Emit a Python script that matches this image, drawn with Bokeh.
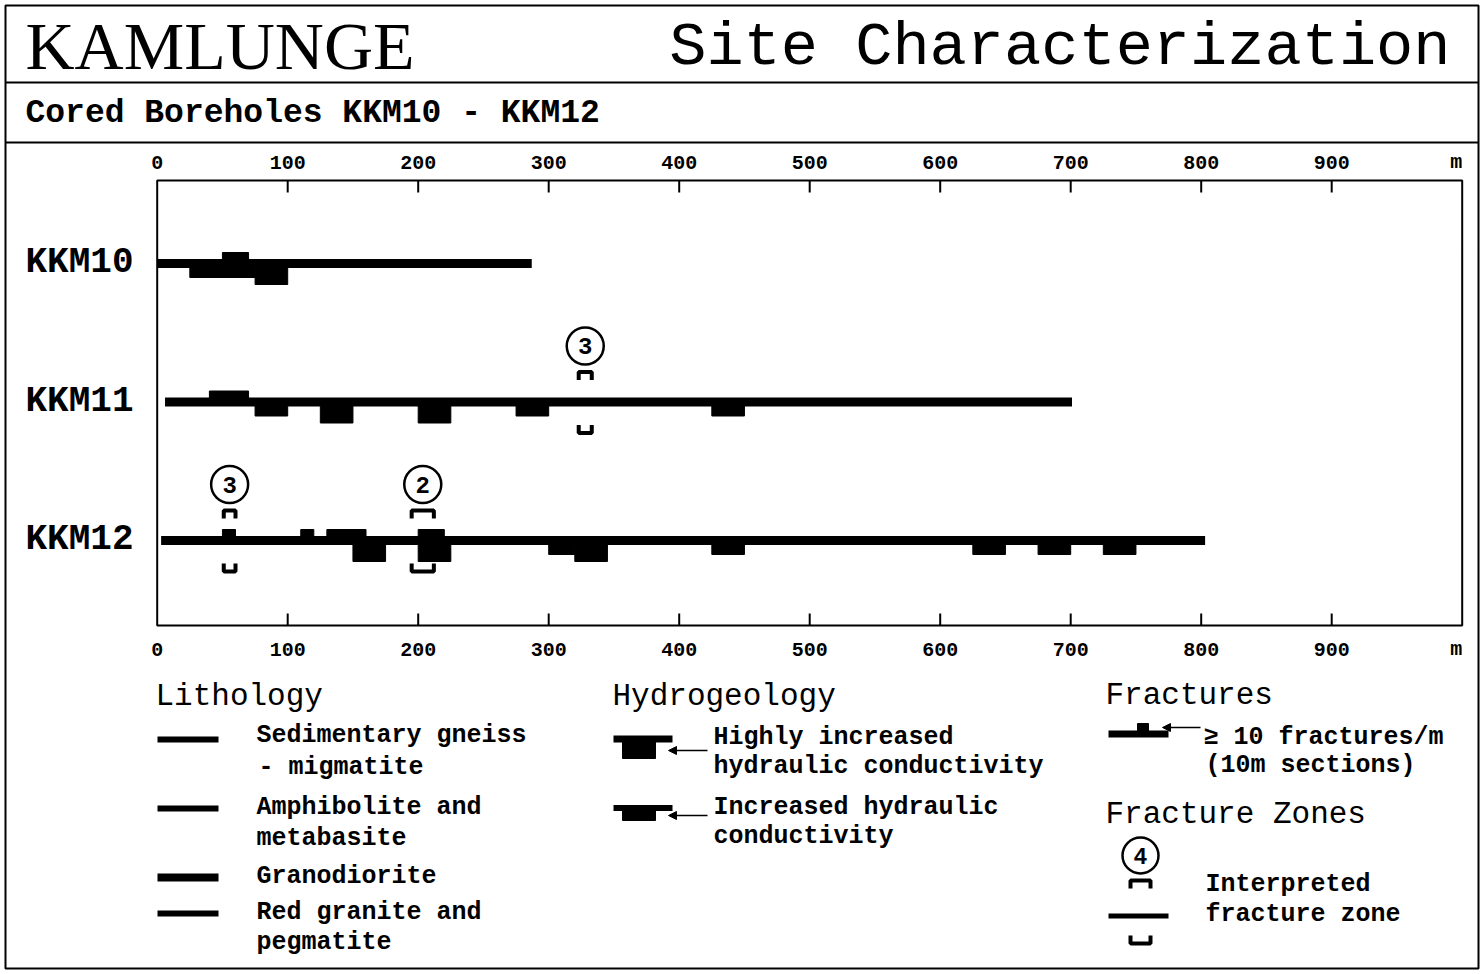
from bokeh.plotting import figure
from bokeh.models import Range1d, Arrow, NormalHead
from bokeh.core.properties import value
from bokeh.embed import file_html
from bokeh.resources import INLINE

# ---------------- data ----------------
borehole_names = ["KKM10", "KKM11", "KKM12"]
borehole_top = [0, 6, 3]            # m
borehole_bottom = [287, 701, 803]   # m

# increased hydraulic conductivity (borehole, from, to) in m
incr_hole = ["KKM10", "KKM11", "KKM11", "KKM11", "KKM12", "KKM12", "KKM12", "KKM12", "KKM12"]
incr_from = [25, 75, 275, 425, 300, 425, 625, 675, 725]
incr_to = [75, 100, 300, 450, 320, 450, 650, 700, 750]

# highly increased hydraulic conductivity
high_hole = ["KKM10", "KKM11", "KKM11", "KKM12", "KKM12", "KKM12"]
high_from = [75, 125, 200, 150, 200, 320]
high_to = [100, 150, 225, 175, 225, 345]

# >= 10 fractures/m (10 m sections)
frac_hole = ["KKM10", "KKM11", "KKM12", "KKM12", "KKM12", "KKM12"]
frac_from = [50, 40, 50, 110, 130, 200]
frac_to = [70, 70, 60, 120, 160, 220]

# interpreted fracture zones
zone_hole = ["KKM11", "KKM12", "KKM12"]
zone_label = ["3", "3", "2"]
zone_from = [323, 51, 195]
zone_to = [333, 60, 212]

tick_depths = [0, 100, 200, 300, 400, 500, 600, 700, 800, 900, 1000]
tick_labels = ["0", "100", "200", "300", "400", "500", "600", "700", "800", "900", "m"]

# ---------------- layout constants ----------------
W, H = 1480, 972
PAGE_L, PAGE_T = 0, 0
X0_PAGE, PX_PER_M = 156.7, 1.305          # depth 0 at page x, scale
ROW0_PAGE, ROW_PX = 263.0, 138.5          # first borehole row, row spacing
BL = 0.32                                  # baseline correction (em)

x_depth = Range1d((PAGE_L - X0_PAGE) / PX_PER_M, (PAGE_L + W - X0_PAGE) / PX_PER_M)
y_rows = Range1d((PAGE_T + H - ROW0_PAGE) / ROW_PX, (PAGE_T - ROW0_PAGE) / ROW_PX)

p = figure(width=W, height=H, x_range=x_depth, y_range=y_rows,
           x_axis_type=None, y_axis_type=None, title=None,
           toolbar_location=None, output_backend="svg", min_border=0,
           outline_line_color=None, background_fill_color="white",
           border_fill_color="white")
p.extra_x_ranges = {"px": Range1d(PAGE_L, PAGE_L + W)}
p.extra_y_ranges = {"py": Range1d(PAGE_T + H, PAGE_T)}

PXR = dict(x_range_name="px", y_range_name="py")
MONO = value("Liberation Mono")
SERIF = value("Liberation Serif")


def row_of(h):
    return borehole_names.index(h)


def off(px):
    return px / ROW_PX


def yb(y, size):
    """baseline y (page px) corrected for the renderer's baseline offset"""
    return y - BL * size


rows = [row_of(h) for h in borehole_names]

# ---------------- frame ----------------
p.quad(left=5, right=1478, top=5, bottom=968, fill_color=None,
       line_color="black", line_width=2, **PXR)
p.segment(x0=[5, 5], x1=[1478, 1478], y0=[82, 142], y1=[82, 142],
          line_color="black", line_width=2, **PXR)

# title
p.text(x=[25], y=[yb(67, 68)], text=["KAMLUNGE"], text_font=SERIF, text_font_size="68px",
       text_align="left", text_baseline="alphabetic", text_color="black", **PXR)
p.text(x=[1450], y=[yb(67, 62)], text=["Site Characterization"], text_font=MONO,
       text_font_size="62px", text_align="right", text_baseline="alphabetic",
       text_color="black", **PXR)
p.text(x=[25], y=[yb(124, 33)], text=["Cored Boreholes KKM10 - KKM12"], text_font=MONO,
       text_font_size="33px", text_font_style="bold", text_align="left",
       text_baseline="alphabetic", text_color="black", **PXR)

# ---------------- depth axis box ----------------
p.quad(left=0, right=1000, top=180, bottom=625, fill_color=None,
       line_color="black", line_width=2, y_range_name="py")
inner = tick_depths[1:-1]
p.segment(x0=inner, x1=inner, y0=[180] * len(inner), y1=[192] * len(inner),
          line_color="black", line_width=2, y_range_name="py")
p.segment(x0=inner, x1=inner, y0=[625] * len(inner), y1=[613] * len(inner),
          line_color="black", line_width=2, y_range_name="py")
for ybase in (168, 655):
    p.text(x=tick_depths[:-1], y=[yb(ybase, 20)] * (len(tick_depths) - 1),
           text=tick_labels[:-1],
           text_font=MONO, text_font_size="20px", text_font_style="bold",
           text_align="center", text_baseline="alphabetic", text_color="black",
           y_range_name="py")
    p.text(x=tick_depths[-1:], y=[yb(ybase, 20)], text=tick_labels[-1:],
           text_font=MONO, text_font_size="20px", text_font_style="bold",
           text_align="right", text_baseline="alphabetic", text_color="black",
           y_range_name="py")

# borehole labels
p.text(x=[25] * 3, y=[r + off(11 - BL * 36) for r in rows], text=borehole_names,
       text_font=MONO, text_font_size="36px", text_font_style="bold",
       text_align="left", text_baseline="alphabetic", text_color="black",
       x_range_name="px")

# ---------------- borehole logs ----------------
p.segment(x0=borehole_top, x1=borehole_bottom, y0=rows, y1=rows,
          line_color="black", line_width=9)

ir = [row_of(h) for h in incr_hole]
p.quad(left=incr_from, right=incr_to, top=ir, bottom=[r + off(14) for r in ir],
       fill_color="black", line_color="black", line_width=1)
hr = [row_of(h) for h in high_hole]
p.quad(left=high_from, right=high_to, top=hr, bottom=[r + off(21) for r in hr],
       fill_color="black", line_color="black", line_width=1)
fr = [row_of(h) for h in frac_hole]
p.quad(left=frac_from, right=frac_to, top=[r - off(11) for r in fr], bottom=fr,
       fill_color="black", line_color="black", line_width=1)

# fracture zones
zr = [row_of(h) for h in zone_hole]
zmid = [(a + b) / 2 for a, b in zip(zone_from, zone_to)]
p.multi_line(xs=[[a, a, b, b] for a, b in zip(zone_from, zone_to)],
             ys=[[r - off(22), r - off(30), r - off(30), r - off(22)] for r in zr],
             line_color="black", line_width=4)
p.multi_line(xs=[[a, a, b, b] for a, b in zip(zone_from, zone_to)],
             ys=[[r + off(23), r + off(31), r + off(31), r + off(23)] for r in zr],
             line_color="black", line_width=4)
p.scatter(x=zmid, y=[r - off(56) for r in zr], size=37, marker="circle",
          fill_color="white", line_color="black", line_width=2.5)
p.text(x=zmid, y=[r - off(48 + BL * 24) for r in zr], text=zone_label, text_font=MONO,
       text_font_size="24px", text_font_style="bold", text_align="center",
       text_baseline="alphabetic", text_color="black")

# ---------------- legends ----------------
HEAD = dict(text_font=MONO, text_font_size="31px", text_align="left",
            text_baseline="alphabetic", text_color="black", **PXR)
BODY = dict(text_font=MONO, text_font_size="25px", text_font_style="bold",
            text_align="left", text_baseline="alphabetic", text_color="black", **PXR)


def hy(ys):
    return [yb(y, 31) for y in ys]


def by(ys):
    return [yb(y, 25) for y in ys]


# Lithology
p.text(x=[155], y=hy([706]), text=["Lithology"], **HEAD)
litho_text = ["Sedimentary gneiss", "- migmatite", "Amphibolite and", "metabasite",
              "Granodiorite", "Red granite and", "pegmatite"]
p.text(x=[256, 258, 256, 256, 256, 256, 256], y=by([743, 775, 815, 846, 884, 920, 950]),
       text=litho_text, **BODY)
p.segment(x0=[157] * 4, x1=[218] * 4, y0=[739, 808, 877, 913], y1=[739, 808, 877, 913],
          line_color="black", line_width=[6, 6, 8, 6], **PXR)

# Hydrogeology
p.text(x=[612], y=hy([706]), text=["Hydrogeology"], **HEAD)
p.text(x=[713] * 4, y=by([745, 774, 815, 844]),
       text=["Highly increased", "hydraulic conductivity", "Increased hydraulic",
             "conductivity"], **BODY)
p.segment(x0=[613, 613], x1=[672, 672], y0=[738.5, 807.5], y1=[738.5, 807.5],
          line_color="black", line_width=[7, 6], **PXR)
p.quad(left=[622, 622], right=[655, 655], top=[738, 807], bottom=[758, 820],
       fill_color="black", line_color="black", **PXR)
for ya in (750, 815):
    p.add_layout(Arrow(end=NormalHead(size=8, fill_color="black", line_color="black"),
                       x_start=707, y_start=ya, x_end=668, y_end=ya,
                       line_color="black", line_width=1.5, **PXR))

# Fractures
p.text(x=[1105], y=hy([705]), text=["Fractures"], **HEAD)
p.text(x=[1203, 1205], y=by([745, 773]), text=["\u2265 10 fractures/m", "(10m  sections)"],
       **BODY)
p.segment(x0=[1108], x1=[1168], y0=[733.5], y1=[733.5], line_color="black",
          line_width=7, **PXR)
p.quad(left=[1137], right=[1148], top=[723], bottom=[733], fill_color="black",
       line_color="black", **PXR)
p.add_layout(Arrow(end=NormalHead(size=8, fill_color="black", line_color="black"),
                   x_start=1200, y_start=727, x_end=1162, y_end=727,
                   line_color="black", line_width=1.5, **PXR))

# Fracture zones
p.text(x=[1105], y=hy([824]), text=["Fracture Zones"], **HEAD)
p.text(x=[1205, 1205], y=by([892, 922]), text=["Interpreted", "fracture zone"], **BODY)
p.scatter(x=[1140], y=[855], size=36, marker="circle", fill_color="white",
          line_color="black", line_width=2.5, **PXR)
p.text(x=[1140], y=[yb(863, 23)], text=["4"], text_font=MONO, text_font_size="23px",
       text_font_style="bold", text_align="center", text_baseline="alphabetic",
       text_color="black", **PXR)
p.multi_line(xs=[[1130, 1130, 1150, 1150], [1130, 1130, 1150, 1150]],
             ys=[[888, 880, 880, 888], [935, 943, 943, 935]],
             line_color="black", line_width=4, **PXR)
p.segment(x0=[1108], x1=[1168], y0=[915.5], y1=[915.5], line_color="black",
          line_width=5, **PXR)

open("out.html", "w").write(file_html(p, INLINE))
